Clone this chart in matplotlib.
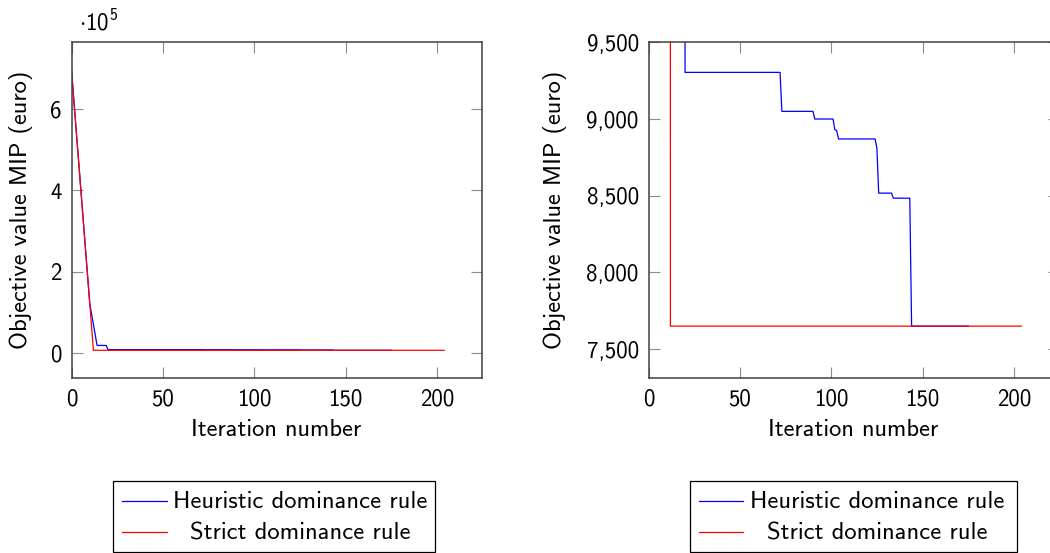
import matplotlib.pyplot as plt
from matplotlib.lines import Line2D
from matplotlib.patches import Rectangle
from matplotlib.ticker import FixedLocator, FuncFormatter

plt.rcParams['font.family'] = ['cmss10', 'DejaVu Sans']
plt.rcParams['mathtext.fontset'] = 'custom'
plt.rcParams['mathtext.rm'] = 'cmss10'
plt.rcParams['mathtext.it'] = 'cmss10'
plt.rcParams['mathtext.bf'] = 'cmss10'
plt.rcParams['axes.unicode_minus'] = False
plt.rcParams['font.size'] = 16.5

# objective value of the MIP (euro) per iteration
heur_iter = [0, 10, 14, 19, 20, 72, 73, 90, 91, 101, 102, 103, 104,
             124, 125, 126, 133, 134, 143, 144, 175]
heur_obj = [694000, 122000, 19600, 19600, 9304, 9304, 9050, 9050, 9000,
            9000, 8930, 8925, 8870, 8870, 8810, 8517, 8517, 8484, 8484,
            7650, 7650]
strict_iter = [0, 12, 204]
strict_obj = [694000, 7650, 7650]

labels = ['Heuristic dominance rule', 'Strict dominance rule']
colors = ['#0000ff', '#ff0000']
x_ticks = [0, 50, 100, 150, 200]
left_yticks = [0, 2e5, 4e5, 6e5]
right_yticks = [7500, 8000, 8500, 9000, 9500]

W, H = 1050, 553
fig = plt.figure(figsize=(W / 100, H / 100), dpi=100)


def fx(px):
    return px / W


def fy(py):
    return 1 - py / H


ax1 = fig.add_axes([fx(71.5), fy(378.3), 410 / W, 336 / H])
ax2 = fig.add_axes([fx(648.5), fy(378.3), 410 / W, 336 / H])

for ax in (ax1, ax2):
    ax.plot(heur_iter, heur_obj, color=colors[0], lw=0.9)
    ax.plot(strict_iter, strict_obj, color=colors[1], lw=0.9)
    ax.set_xlim(0, 224.4)
    ax.xaxis.set_major_locator(FixedLocator(x_ticks))
    ax.tick_params(direction='in', length=8, width=0.8, color='#8c8c8c',
                   top=True, right=True, pad=7, labelsize=16.5)
    for s in ax.spines.values():
        s.set_color('#404040')
        s.set_linewidth(1.1)
    ax.set_xlabel('Iteration number', fontsize=17.6)
    ax.xaxis.label.set_va('center')
    ax.xaxis.set_label_coords(0.5, -0.154)
    ax.set_ylabel('Objective value MIP (euro)', fontsize=17.6)
    ax.yaxis.label.set_va('center')

ax1.set_ylim(-60985, 762635)
ax1.yaxis.set_major_locator(FixedLocator(left_yticks))
ax1.yaxis.set_major_formatter(FuncFormatter(lambda v, p: f"{v / 1e5:g}"))
ax1.yaxis.set_label_coords(-0.123, 0.5)
fig.text(fx(79), fy(22), r"$\cdot10^{5}$", ha='left', va='center', fontsize=16.5)

ax2.set_ylim(7310, 9500)
ax2.yaxis.set_major_locator(FixedLocator(right_yticks))
ax2.yaxis.set_major_formatter(FuncFormatter(lambda v, p: f"{v:,.0f}"))
ax2.yaxis.set_label_coords(-0.228, 0.5)

# legends drawn by hand so the entries can be centred like pgfplots does
boxes = [(112.7, 435.0, 121.7, 166.7, 300.0), (690.0, 1017.3, 699.3, 743.3, 877.0)]
rows = [(501.3, 508.0), (532.3, 540.0)]
for x0, x1, h0, h1, tc in boxes:
    fig.add_artist(Rectangle((fx(x0), fy(551.5)), fx(x1) - fx(x0), fy(481) - fy(551.5),
                             transform=fig.transFigure, facecolor='white',
                             edgecolor='black', lw=0.9))
    for (line_y, base_y), lab, c in zip(rows, labels, colors):
        fig.add_artist(Line2D([fx(h0), fx(h1)], [fy(line_y), fy(line_y)],
                              transform=fig.transFigure, color=c, lw=0.9))
        fig.text(fx(tc), fy(base_y), lab, ha='center', va='baseline', fontsize=17.7)

fig.savefig('out.png', dpi=100)
